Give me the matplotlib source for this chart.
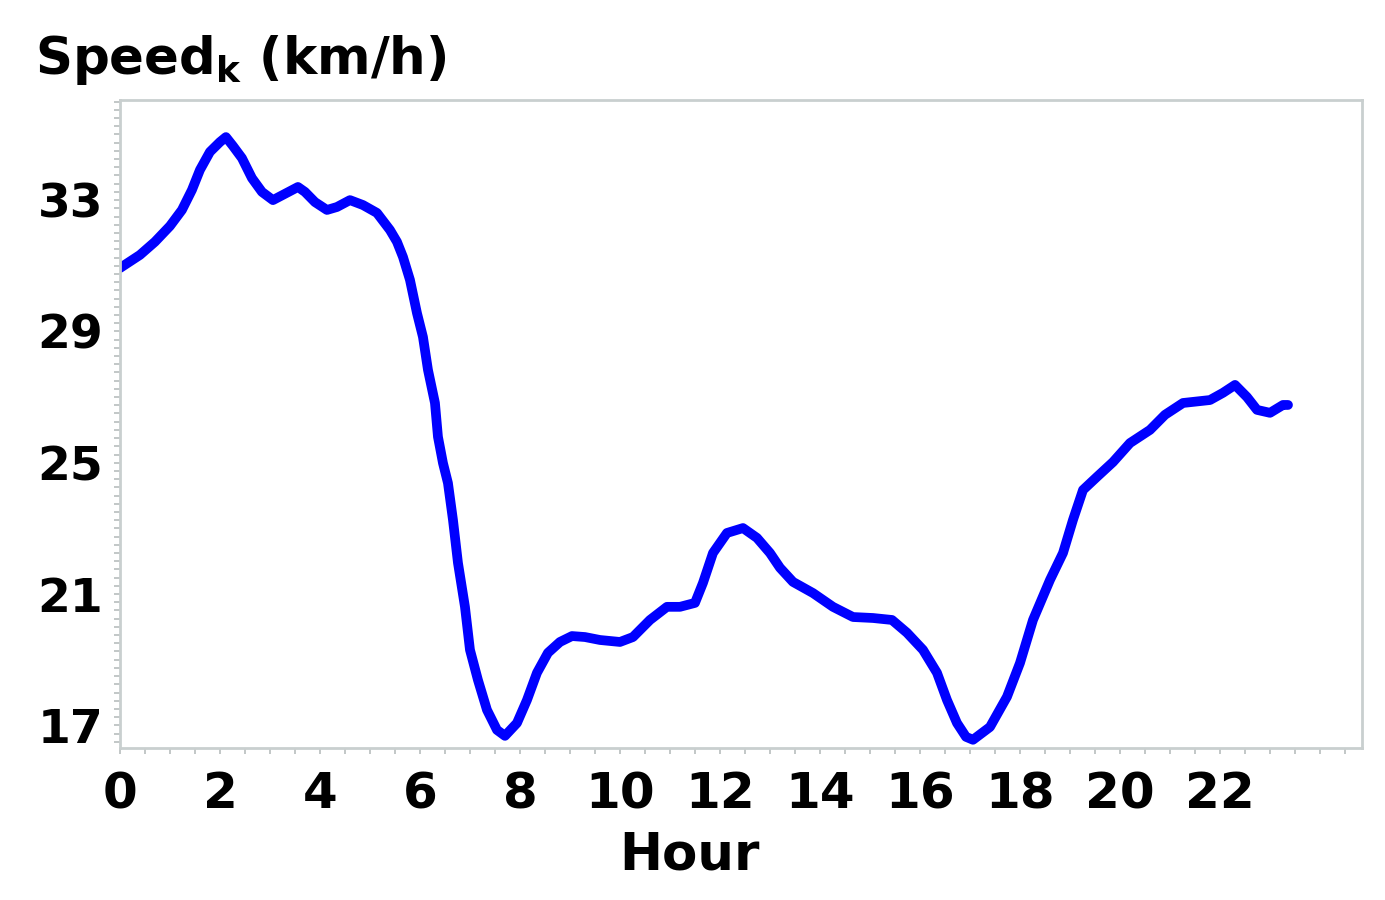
import matplotlib.pyplot as plt
from matplotlib.ticker import MultipleLocator

# hourly speed profile
hour = [0.0, 0.40, 0.70, 1.00, 1.24, 1.44, 1.60, 1.80, 2.00, 2.12, 2.26, 2.44,
        2.64, 2.84, 3.06, 3.26, 3.56, 3.70, 3.90, 4.14, 4.34, 4.60, 4.86, 5.14,
        5.40, 5.54, 5.66, 5.80, 5.94, 6.06, 6.16, 6.30, 6.36, 6.46, 6.56, 6.66,
        6.76, 6.90, 7.00, 7.16, 7.34, 7.54, 7.70, 7.94, 8.14, 8.34, 8.56, 8.80,
        9.04, 9.30, 9.60, 10.00, 10.26, 10.60, 10.94, 11.20, 11.50, 11.66, 11.86,
        12.14, 12.46, 12.74, 13.00, 13.20, 13.46, 13.86, 14.26, 14.66, 15.06,
        15.44, 15.74, 16.06, 16.34, 16.54, 16.74, 16.92, 17.06, 17.40, 17.74,
        18.00, 18.26, 18.60, 18.86, 19.06, 19.26, 19.54, 19.86, 20.20, 20.60,
        20.90, 21.26, 21.80, 22.06, 22.30, 22.54, 22.74, 23.00, 23.26, 23.36]
speed = [30.93, 31.33, 31.73, 32.21, 32.70, 33.31, 33.92, 34.47, 34.77, 34.92,
         34.65, 34.28, 33.67, 33.25, 33.00, 33.16, 33.40, 33.25, 32.94, 32.70,
         32.79, 33.00, 32.85, 32.61, 32.09, 31.73, 31.27, 30.57, 29.56, 28.83,
         27.83, 26.82, 25.79, 24.99, 24.38, 23.26, 21.95, 20.61, 19.30, 18.38,
         17.47, 16.86, 16.68, 17.07, 17.77, 18.60, 19.21, 19.54, 19.72, 19.69,
         19.60, 19.54, 19.69, 20.21, 20.61, 20.61, 20.73, 21.34, 22.25, 22.86,
         23.01, 22.71, 22.25, 21.80, 21.37, 21.03, 20.61, 20.30, 20.27, 20.21,
         19.82, 19.30, 18.60, 17.77, 17.07, 16.65, 16.56, 16.95, 17.87, 18.90,
         20.21, 21.43, 22.25, 23.26, 24.17, 24.57, 25.02, 25.60, 26.00, 26.46,
         26.82, 26.91, 27.13, 27.37, 27.00, 26.61, 26.52, 26.76, 26.76]

x_ticks = list(range(0, 23, 2))
y_ticks = [17, 21, 25, 29, 33]

frame = "#c9cfcf"

fig = plt.figure(figsize=(13.85, 9), dpi=100)
ax = fig.add_axes([0.0866, 0.1689, 0.8968, 0.72])

ax.plot(hour, speed, color="#0000ff", lw=7, solid_joinstyle="round",
        solid_capstyle="round")

ax.set_xlim(0, 24.84)
ax.set_ylim(16.31, 36.05)
ax.set_xticks(x_ticks)
ax.set_yticks(y_ticks)
ax.xaxis.set_minor_locator(MultipleLocator(0.5))
ax.yaxis.set_minor_locator(MultipleLocator(0.25))

for sp in ax.spines.values():
    sp.set_color(frame)
    sp.set_linewidth(2)

ax.tick_params(which="both", direction="out", color="#b8bebe", width=1.2,
               length=4)
ax.tick_params(axis="x", which="major", labelsize=36, pad=12)
ax.tick_params(axis="y", which="major", labelsize=34, pad=8)
for lab in ax.get_xticklabels() + ax.get_yticklabels():
    lab.set_fontweight("bold")

fig.text(0.025, 1 - 60 / 900, r"Speed$_{\mathbf{k}}$ (km/h)", fontsize=37,
         fontweight="bold", va="center", ha="left")
fig.text(689 / 1385, 1 - 855 / 900, "Hour", fontsize=37, fontweight="bold",
         va="center", ha="center")

fig.savefig("out.png", dpi=100)
